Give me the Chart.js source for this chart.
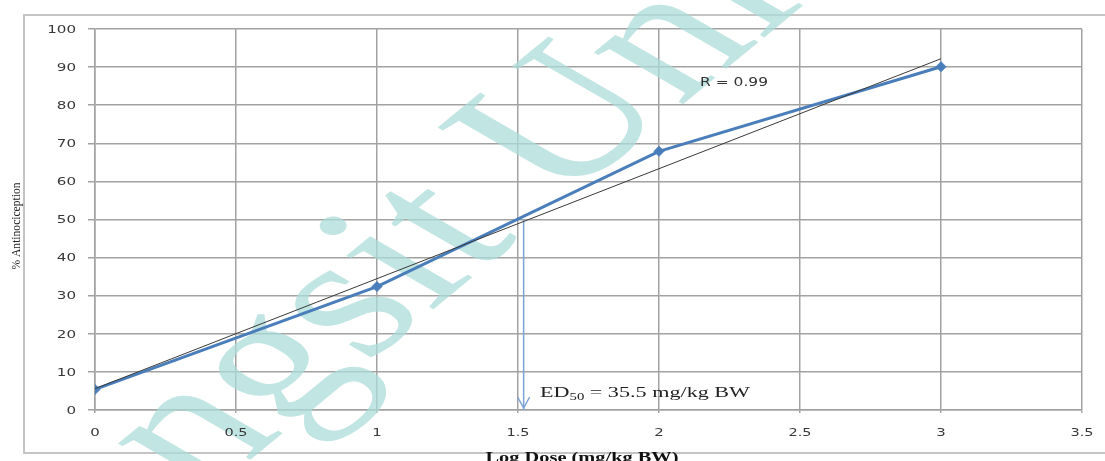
<!DOCTYPE html>
<html><head><meta charset="utf-8">
<script src="https://cdn.jsdelivr.net/npm/chart.js@4/dist/chart.umd.min.js"></script>
<style>html,body{margin:0;padding:0;background:#fff;overflow:hidden}#wrap{width:1105px;height:461px;position:relative}canvas{display:block}</style>
</head><body><div id="wrap"><canvas id="c" width="1105" height="461"></canvas></div>
<script>
// ---- data ----
const logDose = [0, 1, 2, 3];
const antinociception = [5.4, 32.4, 67.9, 90.1];
const trendDose = [0, 3];
const trendValue = [5.6, 92.2];
const ed50Dose = [1.52, 1.52];
const ed50Value = [50, 0];
const xTickValues = [0, 0.5, 1, 1.5, 2, 2.5, 3, 3.5];
const yTickValues = [0, 10, 20, 30, 40, 50, 60, 70, 80, 90, 100];
const yTitle = '% Antinociception';
const xTitle = 'Log Dose (mg/kg BW)';
const rLabel = 'R = 0.99';
const ed50Label = ['ED', '50', ' = 35.5 mg/kg BW'];
const watermark = 'Rangsit University';

const pts = (xs, ys) => xs.map((x, i) => ({x: x, y: ys[i]}));

function stretchText(ctx, text, font, x, y, targetW, align, color) {
  ctx.save();
  ctx.font = font;
  ctx.fillStyle = color;
  ctx.textBaseline = 'alphabetic';
  ctx.textAlign = 'left';
  const w = ctx.measureText(text).width;
  const s = targetW / w;
  let x0 = x;
  if (align === 'center') x0 = x - targetW / 2;
  else if (align === 'right') x0 = x - targetW;
  ctx.translate(x0, y);
  ctx.scale(s, 1);
  ctx.fillText(text, 0, 0);
  ctx.restore();
}

const decor = {
  id: 'decor',
  beforeDraw(chart) {
    const ctx = chart.ctx;
    ctx.save();
    ctx.fillStyle = '#fff';
    ctx.fillRect(0, 0, chart.width, chart.height);
    ctx.strokeStyle = '#c4c4c4';
    ctx.lineWidth = 2;
    ctx.strokeRect(24, 15, 1100, 438);
    ctx.restore();
  },
  beforeDatasetsDraw(chart) {
    const ctx = chart.ctx;
    ctx.save();
    ctx.font = '175px "Liberation Serif"';
    ctx.fillStyle = 'rgba(172,220,216,0.74)';
    const off = ctx.measureText('Rangs').width;
    ctx.translate(430, 312);
    ctx.scale(1.45, 1);
    ctx.rotate(-50 * Math.PI / 180);
    ctx.fillText(watermark, -off, 0);
    ctx.restore();
  },
  afterDraw(chart) {
    const ctx = chart.ctx;
    const xs = chart.scales.x, ys = chart.scales.y;
    ys.ticks.forEach(t => {
      const label = String(t.value);
      const py = ys.getPixelForValue(t.value);
      stretchText(ctx, label, '10px "DejaVu Sans"', 76, py + 3.7, label.length * 9.6, 'right', '#383838');
    });
    xs.ticks.forEach(t => {
      const label = String(t.value);
      const px = xs.getPixelForValue(t.value);
      const w = label.length === 1 ? 9.5 : 23;
      stretchText(ctx, label, '10px "DejaVu Sans"', px, 435.5, w, 'center', '#383838');
    });
    const ax = xs.getPixelForValue(ed50Dose[1]);
    const ay = ys.getPixelForValue(ed50Value[1]) - 2;
    ctx.save();
    ctx.strokeStyle = '#7aa3d6';
    ctx.lineWidth = 1.5;
    ctx.beginPath();
    ctx.moveTo(ax - 6, ay - 11);
    ctx.lineTo(ax, ay);
    ctx.lineTo(ax + 6, ay - 11);
    ctx.stroke();
    ctx.restore();
    stretchText(ctx, rLabel, '12px "DejaVu Sans"', 700, 86, 68, 'left', '#333');
    ctx.save();
    ctx.font = '15px "Liberation Serif"';
    const w1 = ctx.measureText(ed50Label[0]).width;
    const w3 = ctx.measureText(ed50Label[2]).width;
    ctx.font = '10px "Liberation Serif"';
    const w2 = ctx.measureText(ed50Label[1]).width;
    ctx.restore();
    const sc = 210 / (w1 + w2 + w3);
    stretchText(ctx, ed50Label[0], '15px "Liberation Serif"', 540, 397, w1 * sc, 'left', '#222');
    stretchText(ctx, ed50Label[1], '10px "Liberation Serif"', 540 + w1 * sc, 400, w2 * sc, 'left', '#222');
    stretchText(ctx, ed50Label[2], '15px "Liberation Serif"', 540 + (w1 + w2) * sc, 397, w3 * sc, 'left', '#222');
    stretchText(ctx, xTitle, 'bold 14px "Liberation Serif"', 582, 462, 193, 'center', '#111');
    ctx.save();
    ctx.translate(20, 226);
    ctx.rotate(-Math.PI / 2);
    stretchText(ctx, yTitle, '13px "Liberation Serif"', 0, 0, 87, 'center', '#222');
    ctx.restore();
  }
};

const gridColor = '#a2a2a2';
new Chart(document.getElementById('c'), {
  type: 'scatter',
  data: {
    datasets: [
      {
        label: 'Trend',
        data: pts(trendDose, trendValue),
        showLine: true,
        borderColor: '#3a3a3a',
        borderWidth: 1,
        pointRadius: 0,
        order: 0
      },
      {
        label: '% Antinociception',
        data: pts(logDose, antinociception),
        showLine: true,
        borderColor: '#4a7ebb',
        backgroundColor: '#4a7ebb',
        borderWidth: 3,
        pointStyle: 'rectRot',
        pointRadius: 5,
        pointBorderWidth: 1,
        order: 1
      },
      {
        label: 'ED50',
        data: pts(ed50Dose, ed50Value),
        showLine: true,
        borderColor: '#7aa3d6',
        borderWidth: 1.5,
        pointRadius: 0,
        order: 2
      }
    ]
  },
  options: {
    responsive: false,
    animation: false,
    devicePixelRatio: 1,
    layout: {padding: {top: 29, right: 23, left: 0, bottom: 0}},
    plugins: {legend: {display: false}, tooltip: {enabled: false}},
    scales: {
      x: {
        type: 'linear',
        min: xTickValues[0],
        max: xTickValues[xTickValues.length - 1],
        afterBuildTicks: s => { s.ticks = xTickValues.map(v => ({value: v})); },
        afterFit: s => { s.height = 51; },
        ticks: {color: 'rgba(0,0,0,0)', font: {size: 10, family: 'DejaVu Sans'}},
        grid: {color: gridColor, lineWidth: 1.5, tickLength: 3},
        border: {color: gridColor, width: 1.5}
      },
      y: {
        min: yTickValues[0],
        max: yTickValues[yTickValues.length - 1],
        afterBuildTicks: s => { s.ticks = yTickValues.map(v => ({value: v})); },
        afterFit: s => { s.width = 95; },
        ticks: {color: 'rgba(0,0,0,0)', font: {size: 10, family: 'DejaVu Sans'}},
        grid: {color: gridColor, lineWidth: 1.5, tickLength: 7},
        border: {color: gridColor, width: 1.5}
      }
    }
  },
  plugins: [decor]
});
</script>
</body></html>
